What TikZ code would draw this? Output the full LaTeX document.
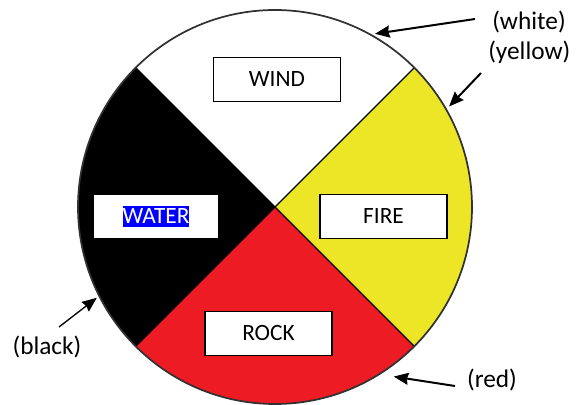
\documentclass[tikz,border=0pt]{standalone}
\usepackage{fontspec}
\setmainfont{Carlito}
\usetikzlibrary{calc}
\usetikzlibrary{arrows.meta}
\definecolor{yellowseg}{RGB}{236,230,38}
\definecolor{redseg}{RGB}{237,28,36}
\definecolor{rimgray}{RGB}{50,50,50}
\definecolor{hlblue}{RGB}{0,0,255}

\begin{document}
\begin{tikzpicture}[x=0.75pt, y=0.75pt,
    namebox/.style={draw=black, line width=1.1pt, fill=white, minimum width=95pt, minimum height=33pt, inner sep=0pt, font=\fontsize{17.5}{20}\selectfont},
    colorlabel/.style={inner sep=0pt, font=\fontsize{19}{22}\selectfont},
    pointer/.style={line width=1.5pt, -{Stealth[length=11pt, width=9pt, inset=1pt]}}]
    \useasboundingbox (0,0) rectangle (579,404);
    \coordinate (c) at (275,197);

    \foreach \a/\col in {45/white, 135/black, 225/redseg, 315/yellowseg} {
        \fill[\col] (c) -- ($(c)+(\a:197)$) arc[start angle=\a, end angle=\a+90, radius=197] -- cycle;
    }
    \draw[line width=0.8pt] ($(c)+(45:197)$) -- ($(c)+(225:197)$);
    \draw[line width=0.8pt] ($(c)+(135:197)$) -- ($(c)+(315:197)$);
    \draw[rimgray, line width=1.3pt] (c) circle (197);

    \node[namebox] (wind) at (277,324.5) {WIND};
    \node[namebox, draw=none, minimum width=93pt, minimum height=32pt] (water) at (156,187.5)
        {\setlength{\fboxsep}{0pt}\colorbox{hlblue}{\textcolor{white}{WATER\vphantom{()}}}};
    \node[namebox] (fire) at (383.5,187.5) {FIRE};
    \node[namebox] (rock) at (268.5,70.5) {ROCK};

    \node[colorlabel, anchor=west] (lblwhite) at (492,382) {(white)};
    \node[colorlabel, anchor=west] (lblyellow) at (488,352) {(yellow)};
    \node[colorlabel] (lblblack) at (47,57) {(black)};
    \node[colorlabel] (lblred) at (492,24) {(red)};

    \coordinate (tailW) at (475,385);
    \coordinate (tipW) at ($(c)+(60:200)$);
    \coordinate (tailY) at (481,331);
    \coordinate (tipY) at ($(c)+(30:201)$);
    \coordinate (tailB) at (59,77);
    \coordinate (tipB) at ($(c)+(207:200)$);
    \coordinate (tailR) at (455,18);
    \coordinate (tipR) at ($(c)+(-55:207)$);

    \draw[pointer] (tailW) -- (tipW);
    \draw[pointer] (tailY) -- (tipY);
    \draw[pointer, line width=1pt] (tailB) -- (tipB);
    \draw[pointer] (tailR) -- (tipR);
\end{tikzpicture}
\end{document}
